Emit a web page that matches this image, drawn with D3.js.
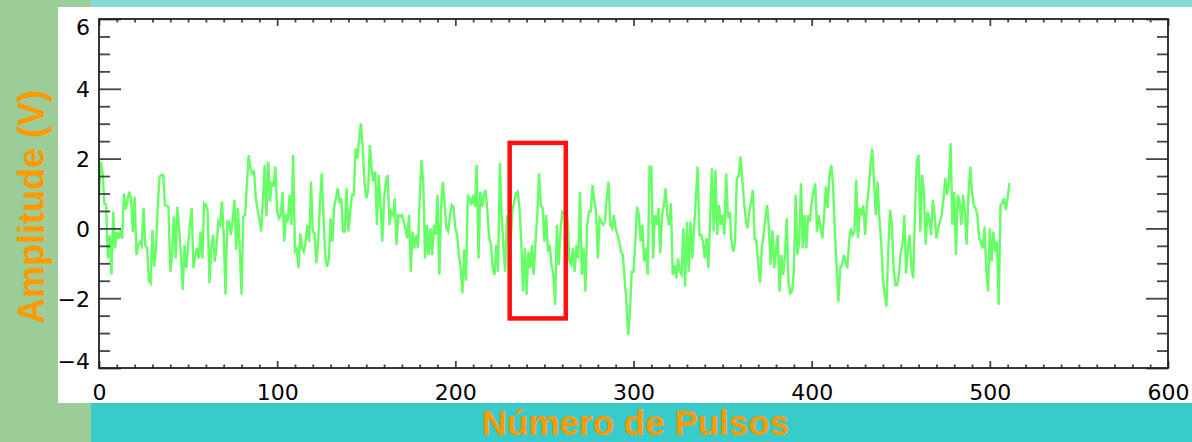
<!DOCTYPE html>
<html>
<head>
<meta charset="utf-8">
<script src="https://cdn.jsdelivr.net/npm/d3@7/dist/d3.min.js"></script>
<style>
  html, body { margin: 0; padding: 0; background: #9ccc98; }
  svg { display: block; }
</style>
</head>
<body>
<div id="chart"></div>
<script>
// amplitude per pulse (pulse 0..511)
const amplitude = [
  0.96, 1.91, 1.6, 0.72, 0.68, -0.86, -0.2, -1.33, 0.48, -0.57,
  -0.1, -0.3, -0.05, -0.3, 1.0, 0.55, 0.8, 1.05, 0.86, -0.1,
  0.91, -0.76, -0.47, -0.4, -0.5, 0.58, -0.5, -0.55, -1.5, -1.57,
  -0.05, -1.1, -0.57, 0.67, 1.48, 1.53, 1.53, 0.67, 0.65, 0.62,
  -1.24, -0.76, 0.34, -0.86, 0.62, 0.0, -0.76, -1.76, -0.47, -1.14,
  -0.5, 0.1, 0.58, -1.14, -0.76, -0.57, -0.86, -0.09, -0.86, 0.72,
  0.67, 0.5, -1.57, -0.57, -0.19, -0.95, -0.5, 0.2, 0.1, 0.77,
  -0.2, -1.9, 0.2, 0.19, -0.19, 0.19, 0.82, -0.62, 0.58, -0.62,
  -1.9, 0.34, 0.38, 1.24, 2.1, 1.72, 1.58, 1.63, 0.86, 0.53,
  0.29, -0.09, 0.82, 1.82, 0.34, 1.91, 0.77, 1.34, 1.2, 1.77,
  0.48, 0.29, 0.38, 1.05, -0.38, 0.4, 0.2, 0.96, 0.1, 2.1,
  -0.67, -0.6, -1.14, -0.14, -0.57, -0.67, -0.38, 0.1, -0.38, 1.34,
  -0.09, -0.14, -1.0, -0.38, 0.72, 1.58, 0.38, -0.8, -1.1, -0.9,
  0.29, -0.38, 0.6, 0.86, 1.15, 0.72, 0.86, -0.09, -0.09, 1.15,
  -0.09, 0.48, 0.96, 0.96, 2.29, 2.0, 2.58, 3.01, 2.3, 1.34,
  0.86, 1.05, 2.39, 1.72, 1.34, 1.63, 0.1, 1.53, 0.67, -0.38,
  0.86, 1.34, 1.53, 0.1, 0.48, 0.38, 0.86, -0.48, 0.38, 0.34,
  0.38, 0.19, 0.0, -0.28, 0.38, -1.24, -0.09, -0.57, -0.19, -0.57,
  0.86, 1.96, 1.29, -0.86, 0.1, -0.76, 0.0, -0.76, 0.1, -0.19,
  0.96, -1.33, 0.58, 1.34, 0.67, 0.0, -0.09, 0.38, 0.67, 0.62,
  0.0, -0.19, -0.76, -1.14, -1.86, -0.6, -1.5, 0.96, 0.86, 0.67,
  0.96, 0.62, 1.82, -0.86, 1.05, 0.62, 0.96, 1.1, 0.48, -0.28,
  -0.47, -1.14, -1.33, -0.47, -1.24, 1.87, 0.38, -0.57, -1.24, 0.38,
  0.1, -0.38, 0.48, 0.77, 0.99, 1.05, 0.58, -0.38, -1.81, -0.57,
  -1.9, -0.67, -1.14, -0.47, -1.33, -0.38, 0.38, 1.58, 0.67, 0.58,
  -0.38, 0.38, -0.67, -0.47, -1.05, -1.33, -2.19, 0.1, -1.05, -0.09,
  0.48, 0.43, 0.48, 0.29, -0.95, -1.05, -0.57, -1.24, -0.47, -0.86,
  1.05, -1.33, -0.57, -1.81, 0.1, 0.48, 0.48, 1.24, 0.77, 0.48,
  -0.86, 0.29, 0.19, 0.1, 0.19, 0.86, 1.34, 0.1, 0.0, 0.38,
  0.0, -0.19, -0.38, -0.67, -0.76, -1.43, -2.1, -3.05, -2.39, -1.24,
  -1.24, -0.38, 0.62, 0.38, -0.38, 0.1, -0.95, -0.57, -1.33, 1.77,
  1.77, -0.86, 0.38, 0.1, 0.58, -0.71, 0.38, 0.67, 1.15, 0.38,
  0.1, 0.72, -1.33, -1.05, -1.43, -0.86, -1.24, -1.33, 0.0, -1.67,
  0.19, -1.24, 0.19, -0.86, 0.0, 0.86, 1.77, -0.19, -0.19, -0.38,
  -0.86, -0.28, -1.14, 0.29, 1.72, -0.09, 1.67, -0.19, 0.67, 0.1,
  0.38, -0.19, 1.58, 0.29, 0.48, -0.38, -0.67, -0.38, 1.44, 1.48,
  2.06, 1.44, 0.77, 0.29, 0.0, 0.48, 0.77, 1.1, -0.28, -0.38,
  -1.05, -1.57, -0.57, -0.19, 0.29, 0.67, 0.0, -1.05, -0.05, -1.14,
  -0.57, -0.19, -1.81, -0.76, -1.33, -0.76, 0.29, -1.53, -1.86, -1.81,
  -1.24, 0.96, -0.76, -0.38, 1.29, -0.57, 0.38, -0.57, 0.38, 0.19,
  0.77, 1.05, 1.29, -0.09, 0.38, 0.0, -0.28, 0.38, 1.2, 0.58,
  1.53, 1.82, 1.24, -0.09, -1.1, -2.1, -1.14, -1.05, -0.76, -0.95,
  -1.14, -0.38, 0.0, -0.19, -0.09, 1.39, -0.28, 0.58, 0.38, 0.67,
  -0.19, 0.67, 1.15, 1.82, 2.29, 1.34, 0.38, 1.34, 0.29, -0.38,
  -1.43, -1.91, -2.24, -0.57, 0.53, 0.1, -1.14, -1.62, -1.62, -1.33,
  -0.67, -0.47, 0.38, -1.29, -0.57, -0.19, -1.14, -1.43, 0.48, 1.91,
  2.1, -0.09, 1.53, 1.05, -0.47, 0.48, 0.29, -0.19, 0.81, 0.38,
  -0.28, 0.0, 0.19, 0.38, 0.86, 1.44, 0.96, 1.34, 2.44, 0.1,
  1.05, -0.76, 0.96, 0.77, 0.1, 0.96, 0.48, -0.47, 0.96, 1.77,
  1.05, 0.67, 0.58, 0.38, -0.28, -0.38, -0.57, 0.05, -1.14, -1.81,
  0.0, -0.95, -0.09, -0.67, -0.38, -2.19, 0.67, 0.72, 0.86, 0.53,
  0.86, 1.3
];

const xTicks = [0, 100, 200, 300, 400, 500, 600];
const yTicks = [-4, -2, 0, 2, 4, 6];
const xDomain = [0, 600];
const yDomain = [-4, 6];

// highlighted window (red box)
const boxPulses = [230.5, 262];
const boxAmps = [-2.58, 2.45];

const xTitle = "Número de Pulsos";
const yTitle = "Amplitude (V)";

const width = 1192;
const height = 442;
const plot = { left: 99, right: 1168, top: 19, bottom: 368 };
const orange = "#ff9900";

const svg = d3
  .select("#chart")
  .append("svg")
  .attr("width", width)
  .attr("height", height);

// slide background pieces
svg.append("rect").attr("width", width).attr("height", height).attr("fill", "#9ccc98");
svg.append("rect").attr("x", 91).attr("y", 0).attr("width", width - 91).attr("height", 7).attr("fill", "#84d9d6");
svg.append("rect").attr("x", 91).attr("y", 403).attr("width", width - 91).attr("height", height - 403).attr("fill", "#38cbc9");
svg.append("rect").attr("x", 58).attr("y", 7).attr("width", width - 58).attr("height", 396).attr("fill", "#ffffff");

const x = d3.scaleLinear().domain(xDomain).range([plot.left, plot.right]);
const y = d3.scaleLinear().domain(yDomain).range([plot.bottom, plot.top]);

const xMinor = d3.range(xDomain[0], xDomain[1] + 1, 10).filter((d) => d % 100 !== 0);
const yMinor = d3.range(yDomain[0], yDomain[1] + 0.01, 0.5).filter((d) => d % 2 !== 0);

// signal
const line = d3
  .line()
  .x((d, i) => x(i))
  .y((d) => y(d));

svg
  .append("path")
  .datum(amplitude)
  .attr("d", line)
  .attr("fill", "none")
  .attr("stroke", "#66ff66")
  .attr("stroke-width", 2.4)
  .attr("stroke-linejoin", "miter");

// red box
svg
  .append("rect")
  .attr("x", x(boxPulses[0]))
  .attr("y", y(boxAmps[1]))
  .attr("width", x(boxPulses[1]) - x(boxPulses[0]))
  .attr("height", y(boxAmps[0]) - y(boxAmps[1]))
  .attr("fill", "none")
  .attr("stroke", "#ff1010")
  .attr("stroke-width", 4.5);

let styleAxis = (g) => {
  g.select(".domain").remove();
  g.selectAll(".tick line").attr("stroke", "#444").attr("stroke-width", 1.8);
  g.selectAll("text")
    .attr("fill", "#000")
    .style("font-family", "'DejaVu Sans', sans-serif")
    .style("font-size", "22px");
};

// ticks: bottom / top
svg.append("g")
  .attr("transform", `translate(0,${plot.bottom})`)
  .call(d3.axisBottom(x).tickValues(xTicks).tickSize(-7).tickSizeOuter(0).tickFormat(d3.format("d")))
  .call(styleAxis)
  .call((g) => g.selectAll("text").attr("y", 32).attr("dy", null));
svg.append("g")
  .attr("transform", `translate(0,${plot.bottom})`)
  .call(d3.axisBottom(x).tickValues(xMinor).tickSize(-3.5).tickFormat(""))
  .call(styleAxis);
svg.append("g")
  .attr("transform", `translate(0,${plot.top})`)
  .call(d3.axisTop(x).tickValues(xTicks).tickSize(-7).tickFormat(""))
  .call(styleAxis);
svg.append("g")
  .attr("transform", `translate(0,${plot.top})`)
  .call(d3.axisTop(x).tickValues(xMinor).tickSize(-3.5).tickFormat(""))
  .call(styleAxis);

// ticks: left / right
svg.append("g")
  .attr("transform", `translate(${plot.left},0)`)
  .call(d3.axisLeft(y).tickValues(yTicks).tickSize(-22).tickFormat(d3.format("d")))
  .call(styleAxis)
  .call((g) =>
    g.selectAll("text")
      .attr("x", -9)
      .attr("dy", (d) => (d === yDomain[1] ? "0.7em" : d === yDomain[0] ? "0.02em" : "0.36em"))
  );
svg.append("g")
  .attr("transform", `translate(${plot.left},0)`)
  .call(d3.axisLeft(y).tickValues(yMinor).tickSize(-11).tickFormat(""))
  .call(styleAxis);
svg.append("g")
  .attr("transform", `translate(${plot.right},0)`)
  .call(d3.axisRight(y).tickValues(yTicks).tickSize(-22).tickFormat(""))
  .call(styleAxis);
svg.append("g")
  .attr("transform", `translate(${plot.right},0)`)
  .call(d3.axisRight(y).tickValues(yMinor).tickSize(-11).tickFormat(""))
  .call(styleAxis);

// frame
svg
  .append("rect")
  .attr("x", plot.left)
  .attr("y", plot.top)
  .attr("width", plot.right - plot.left)
  .attr("height", plot.bottom - plot.top)
  .attr("fill", "none")
  .attr("stroke", "#222")
  .attr("stroke-width", 1.8);

// titles
svg
  .append("text")
  .attr("x", (plot.left + plot.right) / 2 + 2)
  .attr("y", 435)
  .attr("text-anchor", "middle")
  .attr("fill", orange)
  .style("font-family", "'Liberation Sans', Arial, sans-serif")
  .style("font-weight", "bold")
  .style("font-size", "35px")
  .text(xTitle);

svg
  .append("text")
  .attr("transform", `translate(44,${207}) rotate(-90)`)
  .attr("text-anchor", "middle")
  .attr("fill", orange)
  .style("font-family", "'Liberation Sans', Arial, sans-serif")
  .style("font-weight", "bold")
  .style("font-size", "36px")
  .text(yTitle);
</script>
</body>
</html>
